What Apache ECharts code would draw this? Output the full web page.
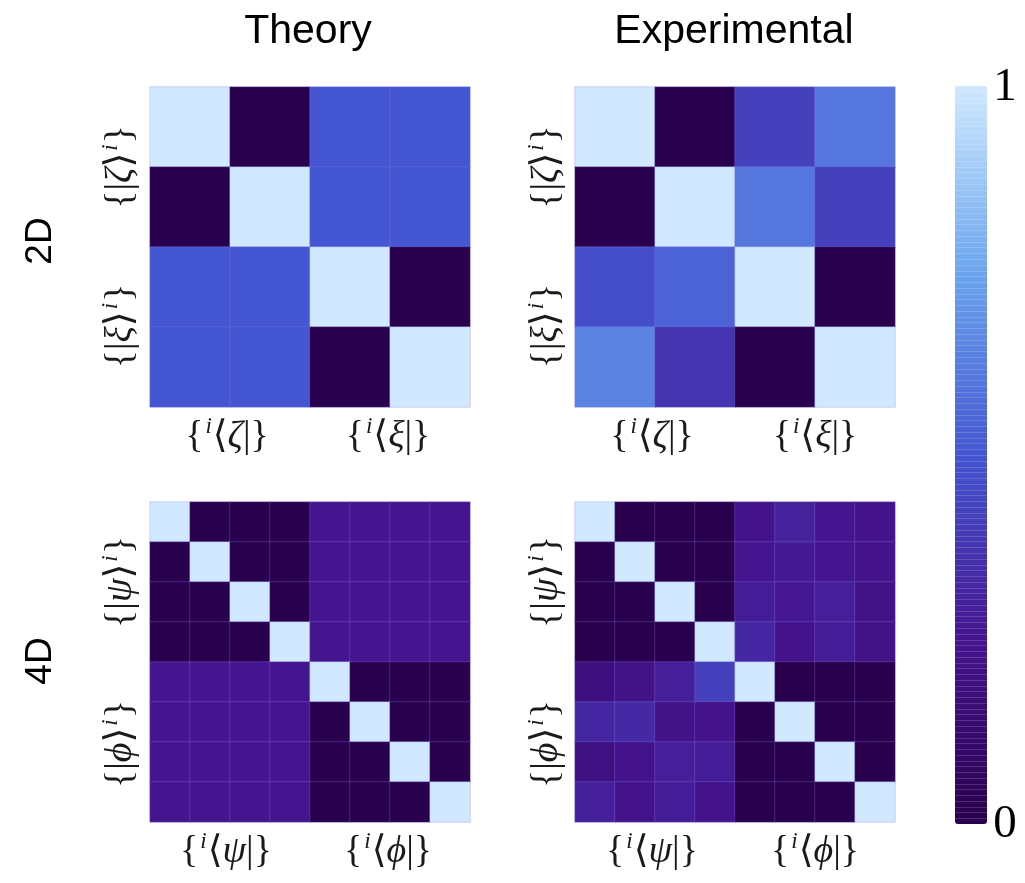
<!DOCTYPE html>
<html lang="en">

<head>
  <script src="https://cdn.jsdelivr.net/npm/echarts@6/dist/echarts.min.js"></script>
  <style>
    html, body { margin: 0; padding: 0; background: #fff; }
  </style>
</head>

<body>
  <div id="chart" style="width: 1025px;height:883px;"></div>

  <script type="text/javascript">

    // matrices, row by row from the top
    const theory2D = [
        [1, 0, 0.5, 0.5],
        [0, 1, 0.5, 0.5],
        [0.5, 0.5, 1, 0],
        [0.5, 0.5, 0, 1]
    ];
    const experimental2D = [
        [1, 0, 0.42, 0.6],
        [0, 1, 0.6, 0.42],
        [0.47, 0.54, 1, 0],
        [0.64, 0.37, 0, 1]
    ];
    const theory4D = [
        [1, 0, 0, 0, 0.25, 0.25, 0.25, 0.25],
        [0, 1, 0, 0, 0.25, 0.25, 0.25, 0.25],
        [0, 0, 1, 0, 0.25, 0.25, 0.25, 0.25],
        [0, 0, 0, 1, 0.25, 0.25, 0.25, 0.25],
        [0.25, 0.25, 0.25, 0.25, 1, 0, 0, 0],
        [0.25, 0.25, 0.25, 0.25, 0, 1, 0, 0],
        [0.25, 0.25, 0.25, 0.25, 0, 0, 1, 0],
        [0.25, 0.25, 0.25, 0.25, 0, 0, 0, 1]
    ];
    const experimental4D = [
        [1, 0, 0, 0, 0.24, 0.3, 0.25, 0.24],
        [0, 1, 0, 0, 0.25, 0.27, 0.25, 0.24],
        [0, 0, 1, 0, 0.28, 0.26, 0.29, 0.22],
        [0, 0, 0, 1, 0.32, 0.24, 0.28, 0.22],
        [0.18, 0.22, 0.29, 0.42, 1, 0, 0, 0],
        [0.32, 0.33, 0.22, 0.24, 0, 1, 0, 0],
        [0.2, 0.24, 0.29, 0.28, 0, 0, 1, 0],
        [0.29, 0.24, 0.28, 0.24, 0, 0, 0, 1]
    ];
    const colorStops = ['#29004d', '#45148f', '#4556d2', '#6ca6ee', '#d0e9ff'];

    const serif = '"Liberation Serif", "DejaVu Serif", serif';
    const sans = '"Liberation Sans", Arial, sans-serif';

    const panels = [
        {m: theory2D, left: 150, top: 87},
        {m: experimental2D, left: 575, top: 87},
        {m: theory4D, left: 150, top: 502},
        {m: experimental4D, left: 575, top: 502}
    ];

    const mathRich = {
        n: {fontFamily: serif, fontSize: 38, fill: '#1a1a1a'},
        g: {fontFamily: serif, fontSize: 38, fontStyle: 'italic', fill: '#1a1a1a'},
        s: {fontFamily: serif, fontSize: 23, fontStyle: 'italic', fill: '#1a1a1a', padding: [0, 1, 20, 2]}
    };

    function bra(sym) {
        return '{{s|i}{n|\u27e8}{g|' + sym + '}{n||}}';
    }
    function ket(sym) {
        return '{{n||}{g|' + sym + '}{n|\u27e9}{s|i}}';
    }

    function mathText(text, x, y, rotated) {
        return {
            type: 'text',
            x: x,
            y: y,
            rotation: rotated ? Math.PI / 2 : 0,
            style: {
                text: text,
                rich: mathRich,
                font: '38px ' + serif,
                fill: '#1a1a1a',
                align: 'center',
                verticalAlign: 'middle'
            }
        };
    }

    function plainText(text, x, y, size, rotated, family) {
        return {
            type: 'text',
            x: x,
            y: y,
            rotation: rotated ? Math.PI / 2 : 0,
            style: {
                text: text,
                font: size + 'px ' + family,
                fill: '#000',
                align: 'center',
                verticalAlign: 'middle'
            }
        };
    }

    function toCells(m) {
        const cells = [];
        m.forEach(function (row, r) {
            row.forEach(function (v, c) {
                cells.push([c, r, v]);
            });
        });
        return cells;
    }

    function indexList(n) {
        return Array.from({length: n}, function (_, i) { return i; });
    }

    const graphics = [
        plainText('Theory', 308, 32, 41, false, sans),
        plainText('Experimental', 734, 32, 41, false, sans),
        plainText('2D', 41, 241, 37, true, sans),
        plainText('4D', 41, 661, 37, true, sans),
        plainText('1', 1005, 88, 47, false, serif),
        plainText('0', 1005, 825, 47, false, serif),

        mathText(bra('\u03b6'), 227, 437, false),
        mathText(bra('\u03be'), 388, 437, false),
        mathText(bra('\u03b6'), 652, 437, false),
        mathText(bra('\u03be'), 815, 437, false),
        mathText(bra('\u03c8'), 226, 852, false),
        mathText(bra('\u03d5'), 388, 852, false),
        mathText(bra('\u03c8'), 652, 852, false),
        mathText(bra('\u03d5'), 815, 852, false),

        mathText(ket('\u03b6'), 121, 167, true),
        mathText(ket('\u03be'), 121, 326, true),
        mathText(ket('\u03b6'), 547, 167, true),
        mathText(ket('\u03be'), 547, 326, true),
        mathText(ket('\u03c8'), 121, 582, true),
        mathText(ket('\u03d5'), 121, 744, true),
        mathText(ket('\u03c8'), 547, 582, true),
        mathText(ket('\u03d5'), 547, 744, true)
    ];

    // thin banding of the colour bar
    for (let i = 1; i < 128; i++) {
        const y = Math.round(86 + i * 738 / 128) + 0.5;
        graphics.push({
            type: 'line',
            z: 100,
            silent: true,
            shape: {x1: 955, y1: y, x2: 987, y2: y},
            style: {stroke: 'rgba(255,255,255,0.16)', lineWidth: 1}
        });
    }

    const chart = echarts.init(document.getElementById('chart'));

    const option = {
        animation: false,
        backgroundColor: '#fff',
        grid: panels.map(function (p) {
            return {left: p.left, top: p.top, width: 320, height: 320};
        }),
        xAxis: panels.map(function (p, i) {
            return {type: 'category', gridIndex: i, show: false, data: indexList(p.m.length)};
        }),
        yAxis: panels.map(function (p, i) {
            return {type: 'category', gridIndex: i, show: false, inverse: true, data: indexList(p.m.length)};
        }),
        visualMap: {
            type: 'continuous',
            min: 0,
            max: 1,
            left: 955,
            top: 86,
            padding: 0,
            itemWidth: 32,
            itemHeight: 738,
            calculable: false,
            text: ['', ''],
            seriesIndex: [0, 1, 2, 3],
            inRange: {color: colorStops}
        },
        series: panels.map(function (p, i) {
            return {
                type: 'heatmap',
                xAxisIndex: i,
                yAxisIndex: i,
                data: toCells(p.m),
                itemStyle: {borderColor: 'rgba(140,120,225,0.3)', borderWidth: 1},
                emphasis: {disabled: true}
            };
        }),
        graphic: graphics
    };

    chart.setOption(option);
  </script>
</body>

</html>
